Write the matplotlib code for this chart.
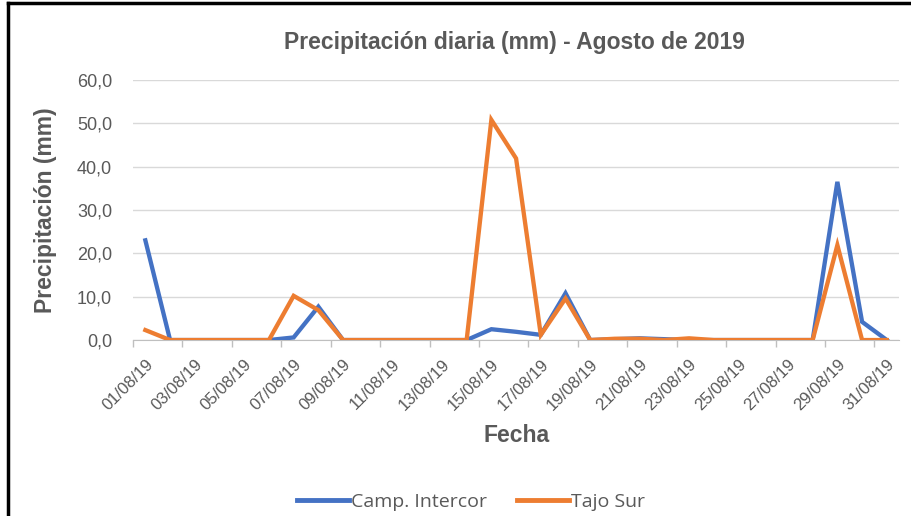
import matplotlib
matplotlib.use("Agg")
import matplotlib.pyplot as plt
from matplotlib.lines import Line2D
from matplotlib.ticker import FuncFormatter

# ==================== datos ====================
fechas = [f"{d:02d}/08/19" for d in range(1, 32)]

camp_intercor = [23.0, 0.0, 0.0, 0.0, 0.0, 0.0, 0.6, 7.7, 0.0, 0.0,
                 0.0, 0.0, 0.0, 0.0, 2.5, 1.9, 1.2, 10.8, 0.0, 0.2,
                 0.4, 0.2, 0.0, 0.0, 0.0, 0.0, 0.0, 0.0, 36.5, 4.2, 0.0]
tajo_sur = [2.3, 0.0, 0.0, 0.0, 0.0, 0.0, 10.2, 6.9, 0.0, 0.0,
            0.0, 0.0, 0.0, 0.0, 50.8, 41.9, 1.2, 9.6, 0.0, 0.3,
            0.3, 0.0, 0.4, 0.0, 0.0, 0.0, 0.0, 0.0, 21.9, 0.0, 0.0]

y_ticks = [0, 10, 20, 30, 40, 50, 60]

AZUL = '#4472C4'
NARANJA = '#ED7D31'
GRIS = '#595959'

plt.rcParams['font.family'] = ['Liberation Sans', 'DejaVu Sans']

fig = plt.figure(figsize=(9.11, 5.16), dpi=100)
ax = fig.add_axes([0.146, 0.341, 0.841, 0.504])

x = list(range(len(fechas)))
ax.plot(x, camp_intercor, color=AZUL, lw=3.1, solid_joinstyle='miter', zorder=3)
ax.plot(x, tajo_sur, color=NARANJA, lw=3.1, solid_joinstyle='miter', zorder=4)

# --- ejes ---
ax.set_xlim(-0.5, len(fechas) - 0.5)
ax.set_ylim(0, 60)
ax.set_yticks(y_ticks)
ax.yaxis.set_major_formatter(FuncFormatter(lambda v, p: f"{v:.1f}".replace('.', ',')))
ax.grid(axis='y', color='#d9d9d9', lw=1.0, zorder=0)
ax.set_axisbelow(True)

ax.set_xticks(x[::2])
ax.set_xticklabels(fechas[::2], rotation=45, ha='right', va='top',
                   rotation_mode='anchor', fontsize=12, color=GRIS)
ax.set_xticks([i - 0.5 for i in range(0, len(fechas), 2)], minor=True)
ax.tick_params(axis='x', which='major', length=0, pad=12)
ax.tick_params(axis='x', which='minor', length=5, color='#bfbfbf', width=1)
ax.tick_params(axis='y', length=0, labelsize=13, labelcolor=GRIS, pad=15)

for s in ['top', 'right', 'left']:
    ax.spines[s].set_visible(False)
ax.spines['bottom'].set_color('#bfbfbf')

ax.set_ylabel('Precipitación (mm)', fontsize=16.5, fontweight='bold', color=GRIS, labelpad=14)
ax.set_xlabel('Fecha', fontsize=16.5, fontweight='bold', color=GRIS, labelpad=8)
fig.text(0.565, 0.918, 'Precipitación diaria (mm) - Agosto de 2019',
         ha='center', va='center', fontsize=16.5, fontweight='bold', color=GRIS)

# --- leyenda ---
handles = [Line2D([], [], color=AZUL, lw=3.5), Line2D([], [], color=NARANJA, lw=3.5)]
fig.legend(handles, ['Camp. Intercor', 'Tajo Sur'], loc='center',
           bbox_to_anchor=(0.517, 0.027), ncol=2, frameon=False,
           handlelength=2.7, handletextpad=0.1, columnspacing=1.5,
           prop={'family': 'Open Sans', 'size': 14}, labelcolor=GRIS)

# --- marco negro (arriba e izquierda) ---
fig.add_artist(Line2D([0.009, 1.0], [0.994, 0.994], color='black', lw=2.5,
                      transform=fig.transFigure))
fig.add_artist(Line2D([0.009, 0.009], [0.0, 0.994], color='black', lw=2.5,
                      transform=fig.transFigure))

fig.savefig('out.png', dpi=100)
